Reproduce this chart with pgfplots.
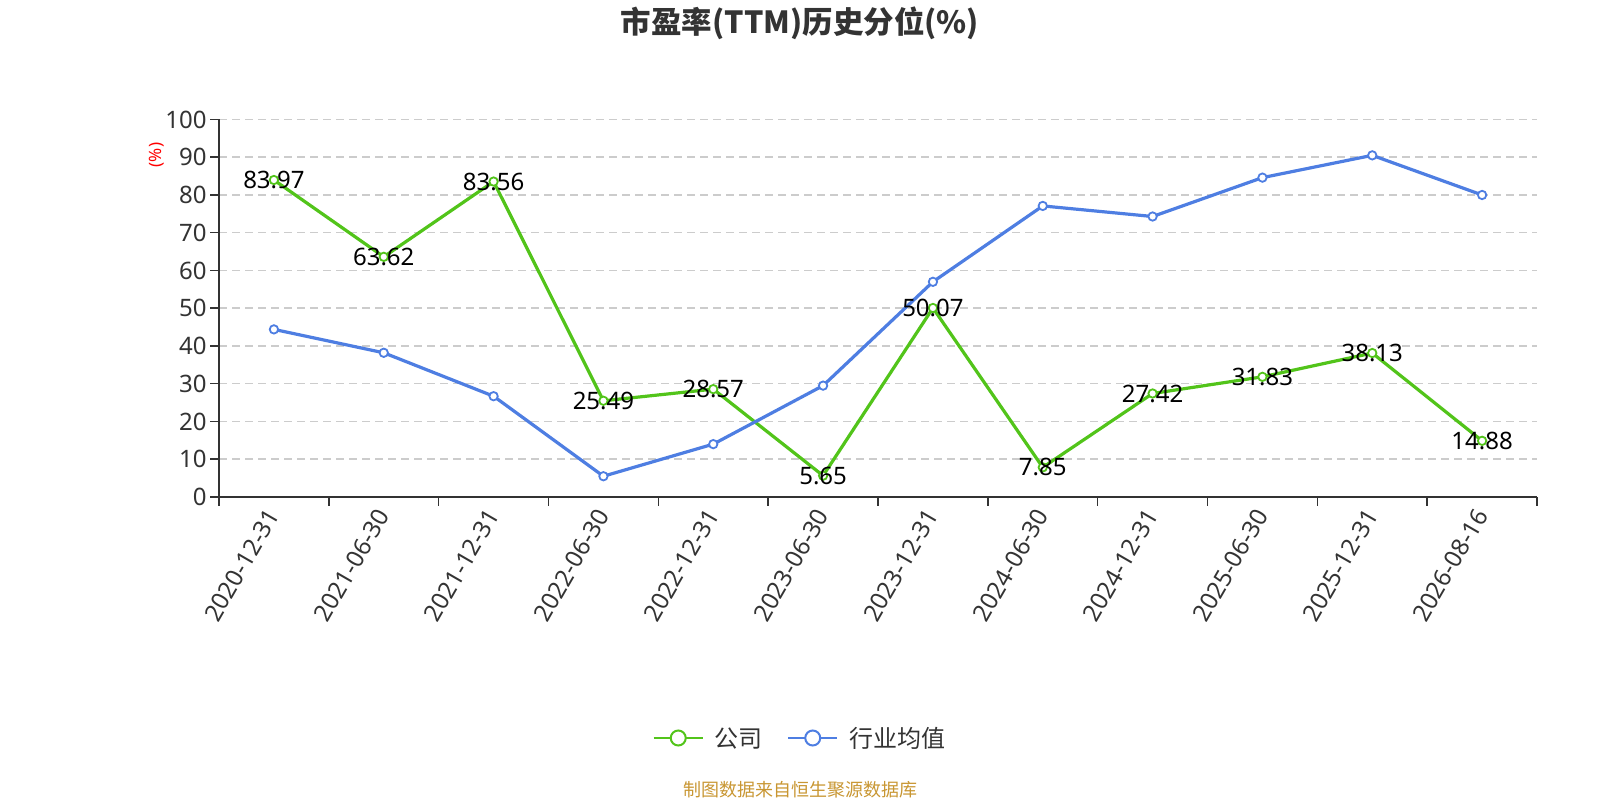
\documentclass[border=0pt]{standalone}
\usepackage{pgfplots}
\pgfplotsset{compat=1.18}
\usepackage{fontspec}
\setmainfont{Noto Sans}
\newfontfamily\cjk{Noto Sans CJK SC}
\definecolor{cgreen}{RGB}{82,196,26}
\definecolor{cblue}{RGB}{78,126,226}
\definecolor{ctext}{RGB}{51,51,51}
\definecolor{cgrid}{RGB}{204,204,204}
\definecolor{csrc}{RGB}{200,150,50}
\begin{document}
\begin{tikzpicture}[x=1bp,y=1bp]
\useasboundingbox (0,0) rectangle (1600,800);
\node[font=\cjk\bfseries\fontsize{30.5bp}{34bp}\selectfont, text=ctext] at (800,777) {市盈率(TTM)历史分位(\%)};
\node[font=\cjk\fontsize{18bp}{22bp}\selectfont, text=csrc] at (800,10) {制图数据来自恒生聚源数据库};
\begin{axis}[
  at={(219bp,303bp)}, anchor=south west,
  width=1318bp, height=377.5bp, scale only axis,
  xmin=-0.5, xmax=11.5, ymin=0, ymax=100,
  axis lines=left,
  axis line style={-, ctext, line width=1.5bp},
  /pgf/number format/assume math mode=true,
  ytick={0,10,...,100},
  ymajorgrids,
  major grid style={cgrid, line width=1.5bp, dash pattern=on 8bp off 5bp},
  xtick={-0.5,0.5,...,11.5},
  xticklabels={2020-12-31,2021-06-30,2021-12-31,2022-06-30,2022-12-31,2023-06-30,2023-12-31,2024-06-30,2024-12-31,2025-06-30,2025-12-31,2026-08-16,{}},
  xticklabel style={xshift=56bp, yshift=-2bp, rotate=60, anchor=east, font=\fontsize{24bp}{26bp}\selectfont, text=ctext},
  yticklabel style={font=\fontsize{24bp}{26bp}\selectfont, text=ctext},
  tick align=outside,
  major tick length=9bp,
  tick style={ctext, line width=1.5bp},
  ylabel={(\%)},
  ylabel style={at={(axis description cs:-0.047,0.906)}, anchor=center, text=red, font=\fontsize{17bp}{19bp}\selectfont},
  clip=false,
  legend style={at={(0.4408,-0.6384)}, anchor=center, draw=none, fill=none, legend columns=2,
    font=\cjk\fontsize{24bp}{27bp}\selectfont, text=ctext,
    /tikz/every odd column/.append style={column sep=9bp},
    /tikz/every even column/.append style={column sep=22bp}},
]
\addplot[cgreen, line width=3.2bp, mark=*, mark size=4.2bp, mark options={fill=white, line width=1.8bp},
  nodes near coords, point meta=explicit symbolic,
  every node near coord/.append style={anchor=center, text=black, font=\fontsize{24bp}{26bp}\selectfont},
  legend image code/.code={\draw[cgreen, line width=2.5bp] (0bp,0bp) -- (49bp,0bp);
    \draw[cgreen, line width=2bp, fill=white] (24.5bp,0bp) circle (7.5bp);}]
coordinates {
(0,83.97)[83.97] (1,63.62)[63.62] (2,83.56)[83.56] (3,25.49)[25.49] (4,28.57)[28.57] (5,5.65)[5.65]
(6,50.07)[50.07] (7,7.85)[7.85] (8,27.42)[27.42] (9,31.83)[31.83] (10,38.13)[38.13] (11,14.88)[14.88]
};
\addlegendentry{公司}
\addplot[cblue, line width=3.2bp, mark=*, mark size=4.2bp, mark options={fill=white, line width=1.8bp},
  legend image code/.code={\draw[cblue, line width=2.5bp] (0bp,0bp) -- (49bp,0bp);
    \draw[cblue, line width=2bp, fill=white] (24.5bp,0bp) circle (7.5bp);}]
coordinates {
(0,44.4) (1,38.2) (2,26.7) (3,5.5) (4,14.0) (5,29.5) (6,57.0) (7,77.1) (8,74.3) (9,84.6) (10,90.5) (11,80.0)
};
\addlegendentry{行业均值}
\end{axis}
\end{tikzpicture}
\end{document}
